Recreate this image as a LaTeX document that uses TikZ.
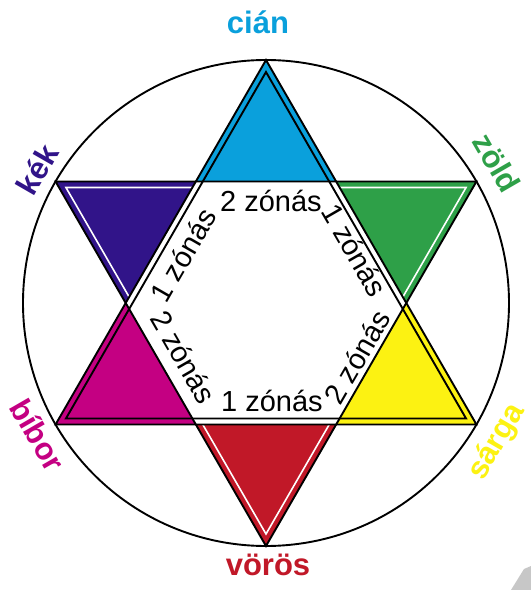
\documentclass[tikz,border=0pt]{standalone}
\usepackage{fontspec}
\setmainfont{Liberation Sans}
\definecolor{ciancol}{HTML}{0AA0DC}
\definecolor{kekcol}{HTML}{311489}
\definecolor{zoldcol}{HTML}{2EA048}
\definecolor{biborcol}{HTML}{C40082}
\definecolor{sargacol}{HTML}{FCF212}
\definecolor{voroscol}{HTML}{C11828}
\tikzset{
  blackline/.style={draw=black, line width=1.9pt, line join=miter},
  whiteline/.style={draw=white, line width=1.6pt, line join=miter},
  colorname/.style={font=\fontsize{31}{31}\selectfont\bfseries, inner sep=0pt},
  zonelabel/.style={font=\fontsize{29}{29}\selectfont, inner sep=0pt}
}
\begin{document}
\begin{tikzpicture}[x=1pt,y=1pt]
\fill[white] (0,0) rectangle (531,590);
\useasboundingbox (0,0) rectangle (531,590);
\fill[black!22] (511,0) -- (524,21) -- (531,24) -- (531,0) -- cycle;
\begin{scope}[shift={(266,287)}]
  % colored star points
  \fill[ciancol]   (90:243)  -- (60:140.3)  -- (120:140.3) -- cycle;
  \fill[kekcol]    (150:243) -- (120:140.3) -- (180:140.3) -- cycle;
  \fill[biborcol]  (210:243) -- (180:140.3) -- (240:140.3) -- cycle;
  \fill[voroscol]  (270:243) -- (240:140.3) -- (300:140.3) -- cycle;
  \fill[sargacol]  (330:243) -- (300:140.3) -- (0:140.3)   -- cycle;
  \fill[zoldcol]   (30:243)  -- (0:140.3)   -- (60:140.3)  -- cycle;
  % circle
  \draw[blackline] (0,0) circle (243);
  % down triangle (RGB): black outline, white inner line
  \draw[whiteline] (30:231) -- (150:231) -- (270:231) -- cycle;
  \draw[blackline] (30:243) -- (150:243) -- (270:243) -- cycle;
  % up triangle (CMY): black outline, black inner line
  \draw[blackline] (90:243) -- (210:243) -- (330:243) -- cycle;
  \draw[blackline] (90:231) -- (210:231) -- (330:231) -- cycle;
\end{scope}
% colour names
\node[colorname, text=ciancol, anchor=base] (cian) at (258,556) {cián};
\node[colorname, text=voroscol, anchor=base] (voros) at (268,15) {vörös};
\node[colorname, text=kekcol, rotate=60] (kek) at (37,421) {kék};
\node[colorname, text=zoldcol, rotate=-60] (zold) at (497,427) {zöld};
\node[colorname, text=biborcol, rotate=-60] (bibor) at (38,155) {bíbor};
\node[colorname, text=sargacol, rotate=60] (sarga) at (497,148) {sárga};
% zone labels
\node[zonelabel] (ztop) at (271,389) {2 zónás};
\node[zonelabel] (zbot) at (272,189) {1 zónás};
\node[zonelabel, rotate=60] (zul) at (183,335) {1 zónás};
\node[zonelabel, rotate=-60] (zur) at (355,340) {1 zónás};
\node[zonelabel, rotate=-60] (zll) at (184,233) {2 zónás};
\node[zonelabel, rotate=60] (zlr) at (357,233) {2 zónás};
\end{tikzpicture}
\end{document}
